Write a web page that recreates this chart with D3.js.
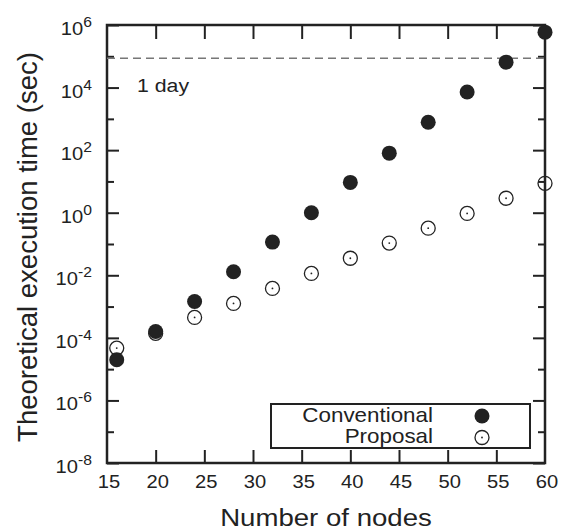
<!DOCTYPE html>
<html>
<head>
<meta charset="utf-8">
<script src="https://cdn.jsdelivr.net/npm/d3@7"></script>
<style>
  body { margin: 0; background: #fff; }
  text { font-family: "Liberation Sans", Arial, sans-serif; fill: #222; }
</style>
</head>
<body>
<div id="chart"></div>
<script>
// Data
const nodes = [16, 20, 24, 28, 32, 36, 40, 44, 48, 52, 56, 60];
const conventional = [2.0e-5, 1.6e-4, 1.45e-3, 1.3e-2, 0.115, 1.0, 9.3, 80, 780, 7200, 65000, 590000];
const proposal = [4.7e-5, 1.4e-4, 4.5e-4, 1.26e-3, 3.8e-3, 1.15e-2, 3.5e-2, 0.107, 0.32, 0.95, 2.9, 8.7];
const xTicks = [15, 20, 25, 30, 35, 40, 45, 50, 55, 60];
const yMajor = [1e-8, 1e-6, 1e-4, 1e-2, 1e0, 1e2, 1e4, 1e6];
const yMinor = [1e-7, 1e-5, 1e-3, 1e-1, 1e1, 1e3, 1e5];
const oneDay = 86400;
const legendLabels = ["Conventional", "Proposal"];

const W = 565, H = 532;
const plot = { left: 107, right: 545, top: 25, bottom: 463 };
const ink = "#222";
const sx = 1.12; // the original lettering is a bit wide

const svg = d3.select("#chart").append("svg")
  .attr("width", W)
  .attr("height", H);

const x = d3.scaleLinear().domain([15, 60]).range([plot.left, plot.right]);
const y = d3.scaleLog().domain([1e-8, 1e6]).range([plot.bottom, plot.top]);

// place a text with a small horizontal stretch
function put(sel, px, py, k = sx) {
  return sel.attr("transform", `translate(${px},${py}) scale(${k},1)`);
}

// ticks (all point inward)
const inner = xTicks.slice(1, -1);
function styleAxis(g) {
  g.select("path.domain").remove();
  g.selectAll(".tick line").attr("stroke", ink).attr("stroke-width", 2);
  g.selectAll(".tick text").remove();
}
svg.append("g").attr("transform", `translate(0,${plot.bottom})`)
  .call(d3.axisBottom(x).tickValues(inner).tickSize(-13)).call(styleAxis);
svg.append("g").attr("transform", `translate(0,${plot.top})`)
  .call(d3.axisTop(x).tickValues(inner).tickSize(-14)).call(styleAxis);
svg.append("g").attr("transform", `translate(${plot.left},0)`)
  .call(d3.axisLeft(y).tickValues(yMajor).tickSize(-12)).call(styleAxis);
svg.append("g").attr("transform", `translate(${plot.left},0)`)
  .call(d3.axisLeft(y).tickValues(yMinor).tickSize(-7)).call(styleAxis);
svg.append("g").attr("transform", `translate(${plot.right},0)`)
  .call(d3.axisRight(y).tickValues(yMajor).tickSize(-12)).call(styleAxis);
svg.append("g").attr("transform", `translate(${plot.right},0)`)
  .call(d3.axisRight(y).tickValues(yMinor).tickSize(-7)).call(styleAxis);

// frame
svg.append("rect")
  .attr("x", plot.left).attr("y", plot.top)
  .attr("width", plot.right - plot.left).attr("height", plot.bottom - plot.top)
  .attr("fill", "none")
  .attr("stroke", ink)
  .attr("stroke-width", 2.5);

// x tick labels
svg.selectAll(".xlab")
  .data(xTicks)
  .enter().append("text")
  .attr("class", "xlab")
  .attr("text-anchor", "middle")
  .style("font-size", "18px")
  .text(d => d)
  .each(function (d) { put(d3.select(this), x(d) + 2, plot.bottom + 25); });

// y tick labels 10^n
svg.selectAll(".ylab")
  .data(yMajor)
  .enter().append("text")
  .attr("class", "ylab")
  .attr("text-anchor", "end")
  .style("font-size", "18px")
  .each(function (d) {
    const t = d3.select(this);
    put(t, 92, y(d) + 10);
    t.append("tspan").text("10");
    t.append("tspan").attr("dy", -8).style("font-size", "14px")
      .text(Math.round(Math.log10(d)));
  });

// axis titles
put(svg.append("text"), (plot.left + plot.right) / 2, 526, 1.15)
  .attr("text-anchor", "middle")
  .style("font-size", "24px")
  .text("Number of nodes");

svg.append("text")
  .attr("transform", `translate(37,${(plot.top + plot.bottom) / 2 + 3}) rotate(-90)`)
  .attr("text-anchor", "middle")
  .style("font-size", "27.5px")
  .text("Theoretical execution time (sec)");

// 1 day reference
svg.append("line")
  .attr("x1", plot.left).attr("x2", plot.right)
  .attr("y1", y(oneDay)).attr("y2", y(oneDay))
  .attr("stroke", "#777")
  .attr("stroke-width", 1.5)
  .attr("stroke-dasharray", "8,5");

put(svg.append("text"), 137, 92)
  .style("font-size", "19px")
  .text("1 day");

// proposal: open circle with a dot in the middle
const prop = svg.selectAll(".prop")
  .data(nodes.map((n, i) => ({ n: n, v: proposal[i] })))
  .enter().append("g")
  .attr("class", "prop")
  .attr("transform", d => `translate(${x(d.n)},${y(d.v)})`);
prop.append("circle").attr("r", 7).attr("fill", "none").attr("stroke", ink).attr("stroke-width", 1.3);
prop.append("circle").attr("r", 0.9).attr("fill", ink);

// conventional: filled circle
svg.selectAll(".conv")
  .data(nodes.map((n, i) => ({ n: n, v: conventional[i] })))
  .enter().append("circle")
  .attr("class", "conv")
  .attr("cx", d => x(d.n))
  .attr("cy", d => y(d.v))
  .attr("r", 7.5)
  .attr("fill", ink);

// legend
const legend = svg.append("g");
legend.append("rect")
  .attr("x", 271).attr("y", 404)
  .attr("width", 259).attr("height", 44)
  .attr("fill", "#fff")
  .attr("stroke", ink)
  .attr("stroke-width", 2);

legendLabels.forEach((label, i) => {
  put(legend.append("text"), 433, 422 + i * 21)
    .attr("text-anchor", "end")
    .style("font-size", "20px")
    .text(label);
});
legend.append("circle")
  .attr("cx", 482).attr("cy", 416).attr("r", 7.5).attr("fill", ink);
legend.append("circle")
  .attr("cx", 482).attr("cy", 437.5).attr("r", 7)
  .attr("fill", "none").attr("stroke", ink).attr("stroke-width", 1.3);
legend.append("circle")
  .attr("cx", 482).attr("cy", 437.5).attr("r", 0.9).attr("fill", ink);
</script>
</body>
</html>
